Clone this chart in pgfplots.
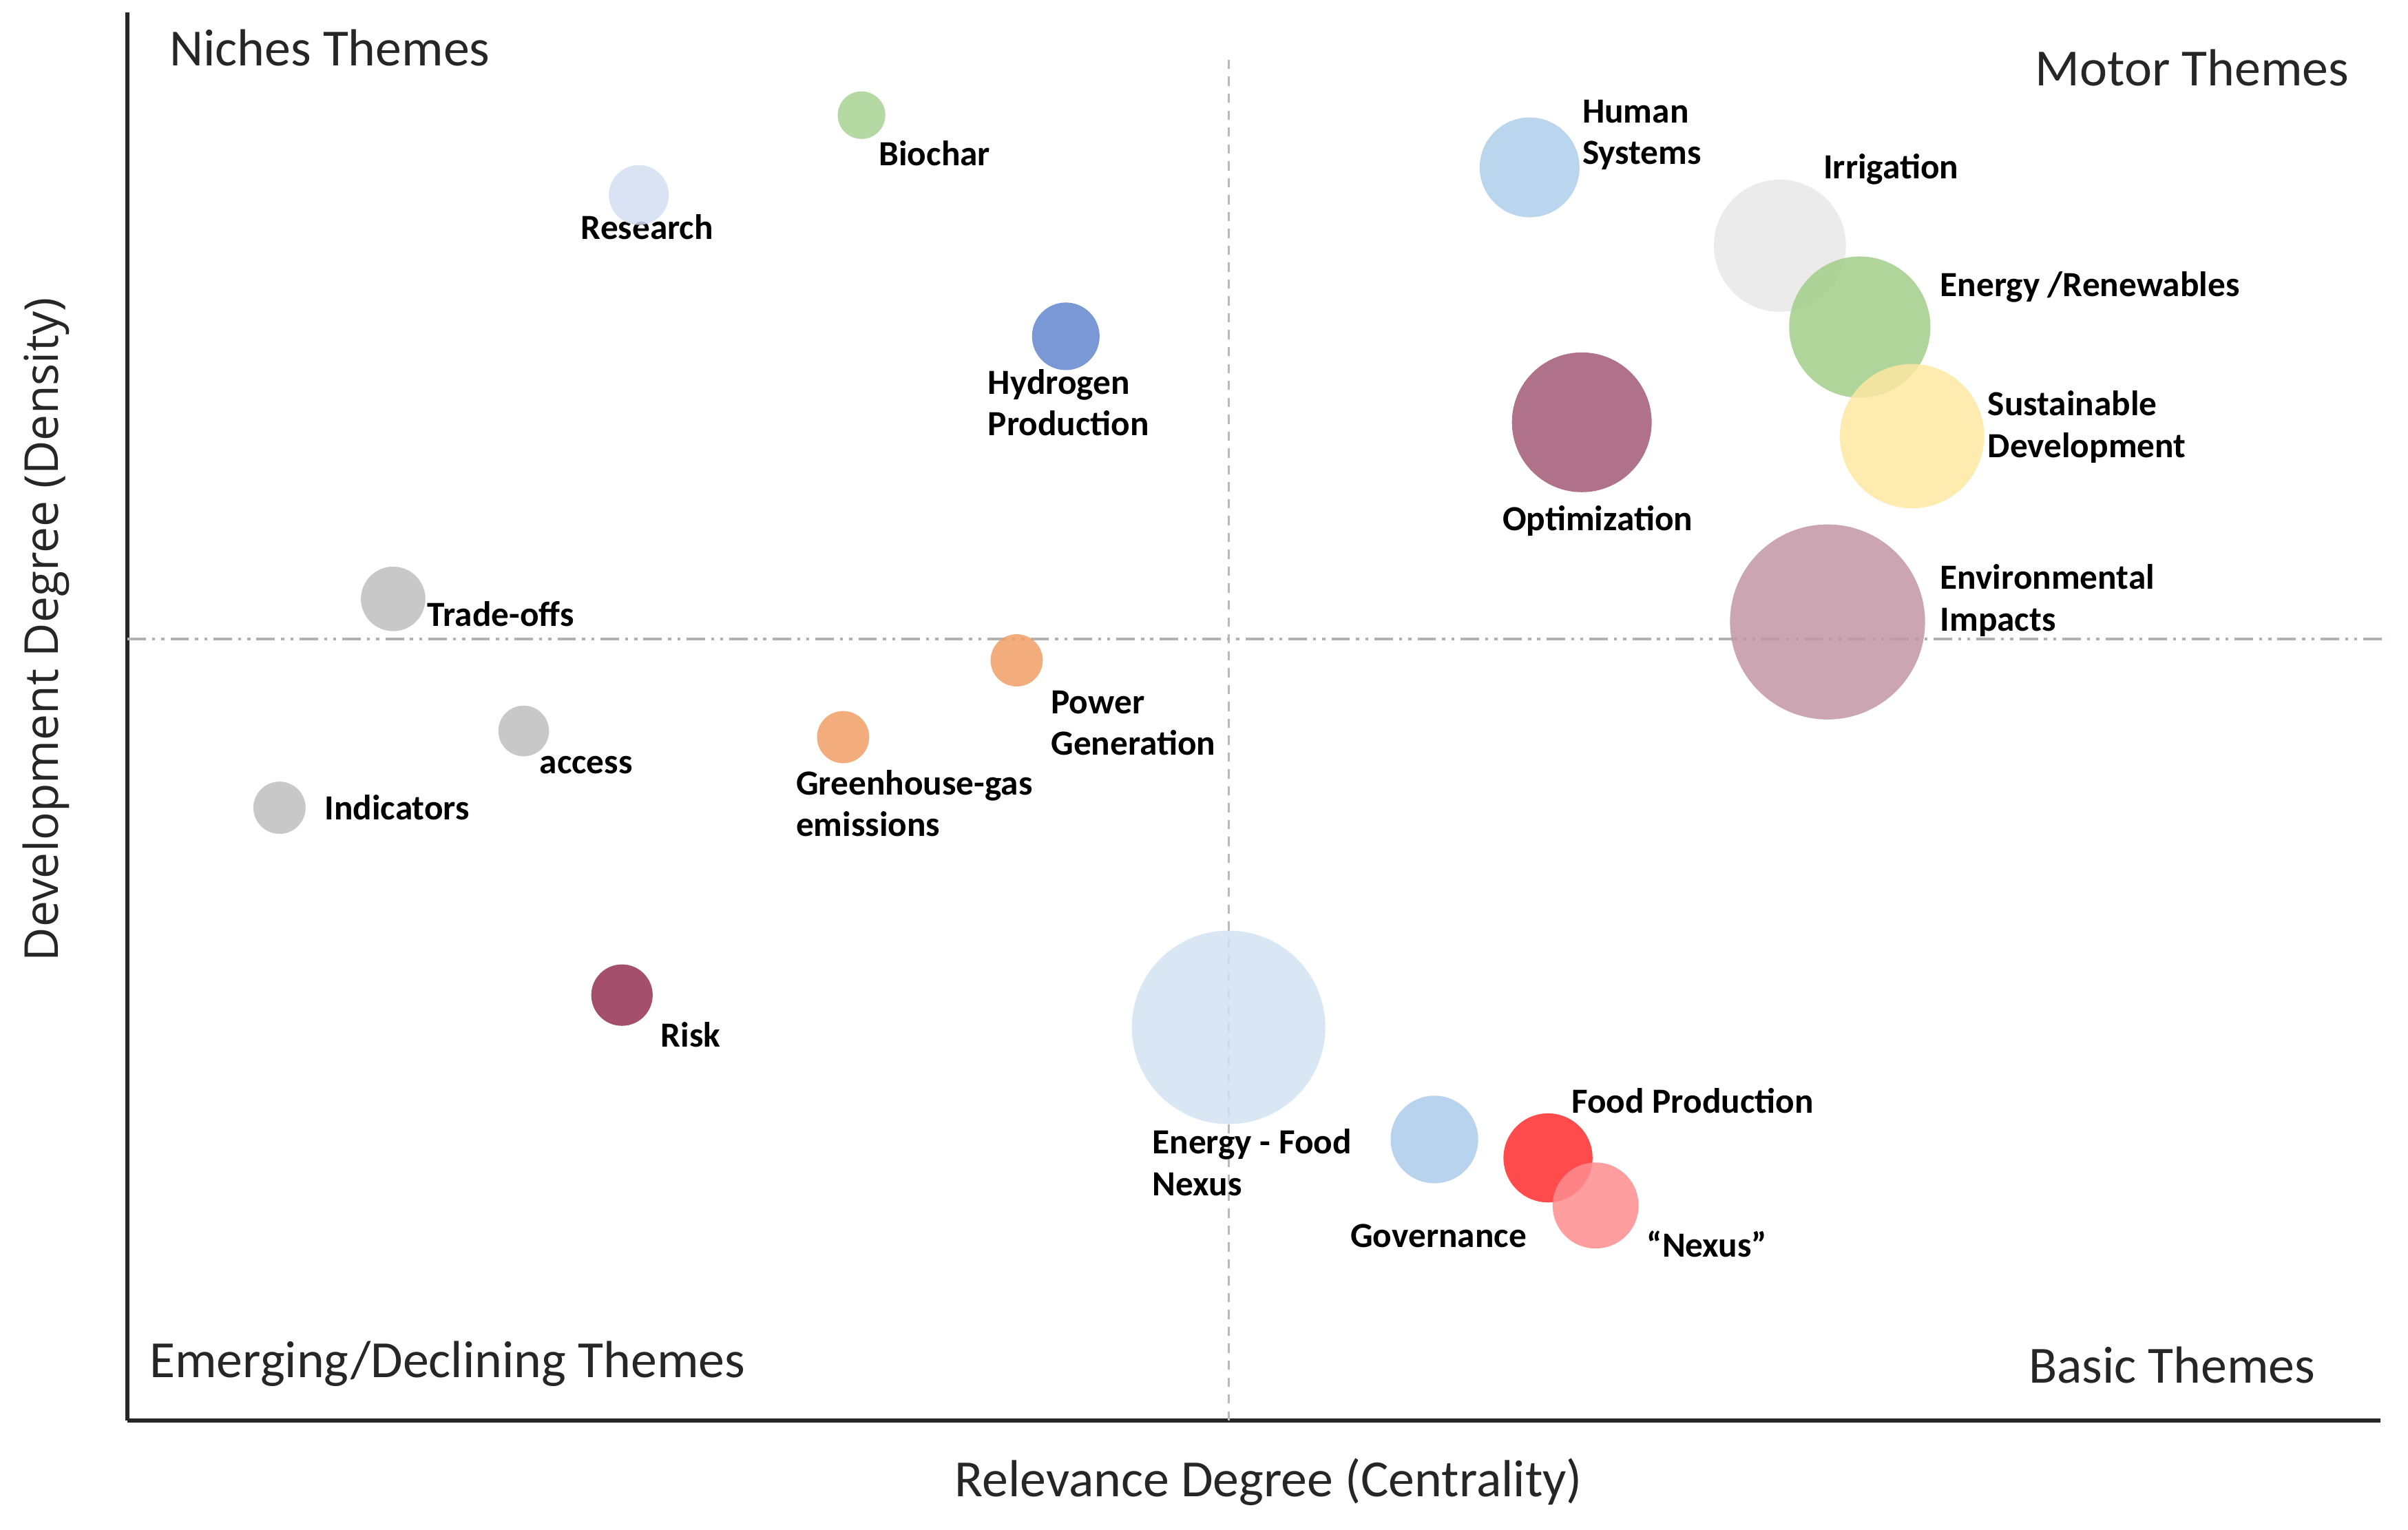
\documentclass[border=0pt]{standalone}
\usepackage{pgfplots}
\pgfplotsset{compat=1.18}
\usepackage{fontspec}
\setmainfont{Carlito}
\newfontfamily\opensans{Open Sans}
\definecolor{cBio}{RGB}{168,210,147}
\definecolor{cRes}{RGB}{211,222,242}
\definecolor{cHyd}{RGB}{99,134,206}
\definecolor{cGray}{RGB}{190,190,190}
\definecolor{cOra}{RGB}{241,159,101}
\definecolor{cRisk}{RGB}{148,49,84}
\definecolor{cEFN}{RGB}{210,227,243}
\definecolor{cGov}{RGB}{171,203,235}
\definecolor{cFood}{RGB}{255,43,43}
\definecolor{cNex}{RGB}{255,140,142}
\definecolor{cHum}{RGB}{174,206,235}
\definecolor{cIrr}{RGB}{231,231,231}
\definecolor{cEnR}{RGB}{162,206,136}
\definecolor{cSus}{RGB}{253,231,162}
\definecolor{cOpt}{RGB}{162,89,115}
\definecolor{cEnv}{RGB}{195,149,166}
\definecolor{axline}{RGB}{38,38,38}
\newcommand{\lab}{\bfseries\fontsize{11.5}{13.5}\selectfont}
\begin{document}
\begin{tikzpicture}
\begin{axis}[
  scale only axis,
  width=733.5pt, height=458.5pt,
  xmin=0, xmax=1467, ymin=0, ymax=917,
  enlargelimits=false,
  axis x line=bottom, axis y line=left,
  axis line style={-, line width=1.2pt, color=axline},
  xtick=\empty, ytick=\empty,
  clip=false,
  bub/.style={only marks, mark=*, color=#1, mark options={fill=#1, draw=#1, fill opacity=0.85, draw opacity=0, line width=0pt}},
]
% invisible frame for page size
\path (axis cs:-83,-71) rectangle (axis cs:1485,925);
% quadrant divider lines
\addplot[gray!55, line width=0.6pt, dash pattern=on 3pt off 2.5pt] coordinates {(717,0) (717,890)};
\addplot[gray!60, line width=0.8pt, dash pattern=on 6pt off 2pt on 1pt off 2pt on 1pt off 2pt] coordinates {(0,509) (1472,509)};
% bubbles
\addplot[bub=cBio, mark size=7.75pt] coordinates {(478,850)};
\addplot[bub=cRes, mark size=9.75pt] coordinates {(333,798)};
\addplot[bub=cHyd, mark size=11pt] coordinates {(611,706)};
\addplot[bub=cGray, mark size=10.5pt] coordinates {(173,535)};
\addplot[bub=cOra, mark size=8.5pt] coordinates {(579,495)};
\addplot[bub=cGray, mark size=8.25pt] coordinates {(258,449)};
\addplot[bub=cOra, mark size=8.5pt] coordinates {(466,445)};
\addplot[bub=cGray, mark size=8.5pt] coordinates {(99,399)};
\addplot[bub=cRisk, mark size=10pt] coordinates {(322,277)};
\addplot[bub=cEFN, mark size=31.5pt] coordinates {(717,256)};
\addplot[bub=cGov, mark size=14.25pt] coordinates {(851,183)};
\addplot[bub=cFood, mark size=14.5pt] coordinates {(925,171)};
\addplot[bub=cNex, mark size=14pt] coordinates {(956,140)};
\addplot[bub=cHum, mark size=16.25pt] coordinates {(913,816)};
\addplot[bub=cIrr, mark size=21.5pt] coordinates {(1076,765)};
\addplot[bub=cEnR, mark size=23pt] coordinates {(1128,712)};
\addplot[bub=cSus, mark size=23.5pt] coordinates {(1162,641)};
\addplot[bub=cOpt, mark size=22.75pt] coordinates {(947,650)};
\addplot[bub=cEnv, mark size=31.75pt] coordinates {(1107,520)};
% bubble labels
\begin{scope}[every node/.style={inner sep=0pt, align=left, anchor=west, font=\lab}]
\node at (axis cs:489,825) {Biochar};
\node at (axis cs:295,777) {Research};
\node at (axis cs:560,663) {Hydrogen\\Production};
\node at (axis cs:195,525) {Trade-offs};
\node at (axis cs:601,454) {Power\\Generation};
\node at (axis cs:268,427) {access};
\node at (axis cs:435,402) {Greenhouse-gas\\emissions};
\node at (axis cs:128,399) {Indicators};
\node at (axis cs:347,251) {Risk};
\node at (axis cs:667,168) {Energy - Food\\Nexus};
\node at (axis cs:796,120) {Governance};
\node at (axis cs:940,208) {Food Production};
\node at (axis cs:989,115) {“Nexus”};
\node at (axis cs:947,837) {Human\\Systems};
\node at (axis cs:1104,815) {Irrigation};
\node at (axis cs:1180,738) {Energy /Renewables};
\node at (axis cs:1211,647) {Sustainable\\Development};
\node at (axis cs:895,586) {Optimization};
\node at (axis cs:1180,534) {Environmental\\Impacts};
\end{scope}
% quadrant labels
\begin{scope}[every node/.style={inner sep=0pt, font=\fontsize{17}{20}\selectfont, text=black!85}]
\node[anchor=west] at (axis cs:27,894) {Niches Themes};
\node[anchor=east] at (axis cs:1447,881) {Motor Themes};
\node[anchor=west] at (axis cs:14,37) {Emerging/Declining Themes};
\node[anchor=east] at (axis cs:1425,36) {Basic Themes};
\end{scope}
% axis titles
\node[inner sep=0pt, font=\fontsize{17}{20}\selectfont, text=black!85] at (axis cs:743,-40) {Relevance Degree (Centrality)};
\node[inner sep=0pt, rotate=90, font=\opensans\fontsize{15.2}{18}\selectfont, text=black!85] at (axis cs:-53,515) {Development Degree (Density)};
\end{axis}
\end{tikzpicture}
\end{document}
